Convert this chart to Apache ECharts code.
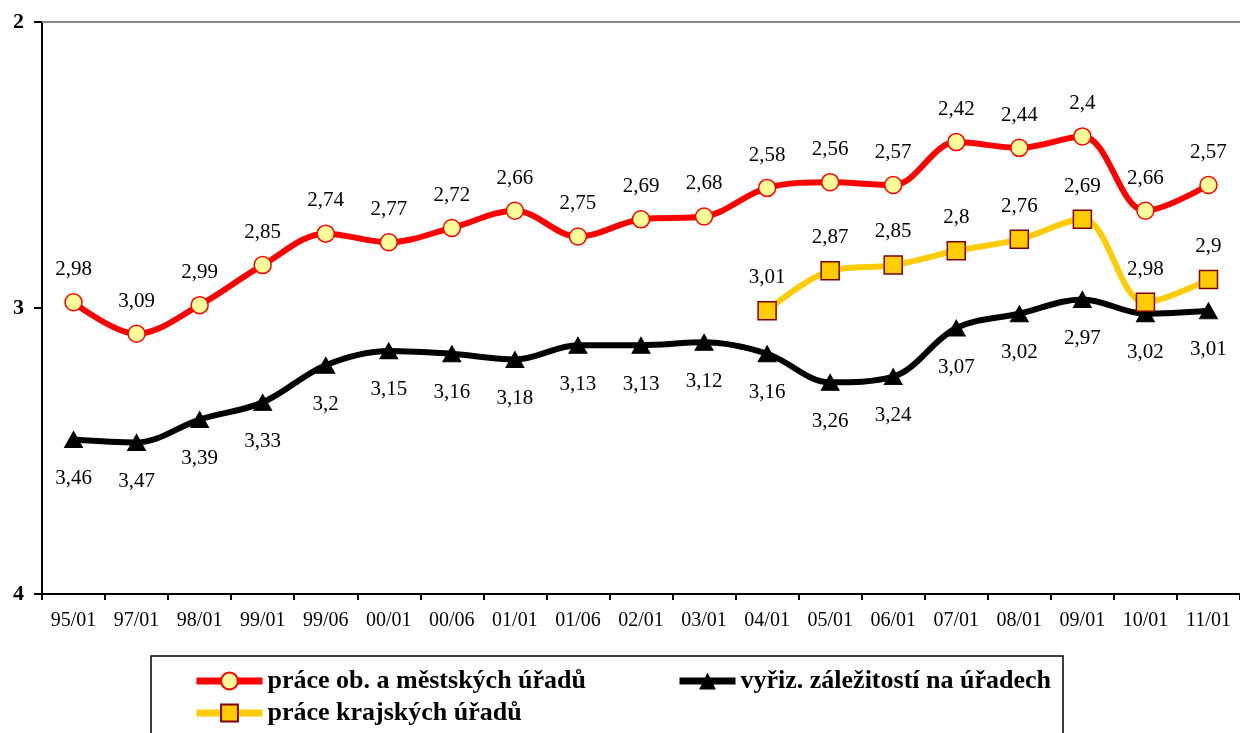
<!DOCTYPE html>
<html><head><meta charset="utf-8">
<script src="https://cdn.jsdelivr.net/npm/echarts@6/dist/echarts.min.js"></script>
<style>html,body{margin:0;padding:0;background:#fff}#c{width:1240px;height:733px}</style>
</head><body><div id="c"></div>
<script>
const categories = ['95/01','97/01','98/01','99/01','99/06','00/01','00/06','01/01','01/06','02/01','03/01','04/01','05/01','06/01','07/01','08/01','09/01','10/01','11/01'];
const mestske = [2.98,3.09,2.99,2.85,2.74,2.77,2.72,2.66,2.75,2.69,2.68,2.58,2.56,2.57,2.42,2.44,2.4,2.66,2.57];
const vyrizovani = [3.46,3.47,3.39,3.33,3.2,3.15,3.16,3.18,3.13,3.13,3.12,3.16,3.26,3.24,3.07,3.02,2.97,3.02,3.01];
const krajske = [null,null,null,null,null,null,null,null,null,null,null,3.01,2.87,2.85,2.8,2.76,2.69,2.98,2.9];
const yTicks = [2,3,4];
const names = ['práce ob. a městských úřadů','vyřiz. záležitostí na úřadech','práce krajských úřadů'];

const font = 'Liberation Serif';
const labelFmt = p => String(p.value).replace('.', ',');
const legendText = {fontFamily:font, fontSize:26, fontWeight:'bold', color:'#000'};

const chart = echarts.init(document.getElementById('c'), null, {renderer:'canvas'});
chart.setOption({
  animation:false,
  backgroundColor:'#fff',
  grid:{left:42, top:22, width:1203, bottom:139, containLabel:false},
  xAxis:[{
    type:'category', data:categories, boundaryGap:true,
    axisLine:{lineStyle:{color:'#000', width:2}},
    axisTick:{show:true, length:6, lineStyle:{color:'#000', width:2}},
    axisLabel:{fontFamily:font, fontSize:20, color:'#000', margin:17, interval:0}
  },{
    type:'category', data:categories, position:'top',
    axisLine:{lineStyle:{color:'#888', width:2}},
    axisTick:{show:false}, axisLabel:{show:false}
  }],
  yAxis:{
    type:'value', inverse:true, min:yTicks[0], max:yTicks[yTicks.length-1], interval:1,
    axisLine:{show:true, lineStyle:{color:'#000', width:2}},
    axisTick:{show:true, length:8, lineStyle:{color:'#000', width:2}},
    splitLine:{show:false},
    axisLabel:{fontFamily:font, fontSize:22, fontWeight:'bold', color:'#000', margin:18}
  },
  legend:[{
    data:[names[0]], left:188, top:663, itemWidth:66, itemHeight:21,
    lineStyle:{width:7}, textStyle:legendText
  },{
    data:[names[1]], left:671, top:663, itemWidth:56, itemHeight:21,
    lineStyle:{width:7}, textStyle:legendText
  },{
    data:[names[2]], left:188, top:695, itemWidth:66, itemHeight:21,
    lineStyle:{width:7}, textStyle:legendText
  }],
  graphic:[{type:'rect', shape:{x:151, y:656, width:912, height:90}, style:{fill:'none', stroke:'#000', lineWidth:1.5}, silent:true}],
  series:[{
    name:names[0], type:'line', data:mestske, smooth:0.35,
    lineStyle:{color:'#ff0000', width:6},
    symbol:'circle', symbolSize:17,
    itemStyle:{color:'#ffff99', borderColor:'#ff0000', borderWidth:1.5},
    label:{show:true, position:'top', distance:13, formatter:labelFmt, fontFamily:font, fontSize:21, color:'#000'},
    z:3
  },{
    name:names[1], type:'line', data:vyrizovani, smooth:0.35,
    lineStyle:{color:'#000', width:6},
    symbol:'triangle', symbolSize:[18,16],
    itemStyle:{color:'#000', borderColor:'#000'},
    label:{show:true, position:'bottom', distance:20, formatter:labelFmt, fontFamily:font, fontSize:21, color:'#000'},
    z:2
  },{
    name:names[2], type:'line', data:krajske, smooth:0.35, connectNulls:false,
    lineStyle:{color:'#ffcc00', width:6},
    symbol:'rect', symbolSize:18,
    itemStyle:{color:'#ffcc00', borderColor:'#800000', borderWidth:1.5},
    label:{show:true, position:'top', distance:13, formatter:labelFmt, fontFamily:font, fontSize:21, color:'#000'},
    z:4
  }]
});
</script></body></html>
